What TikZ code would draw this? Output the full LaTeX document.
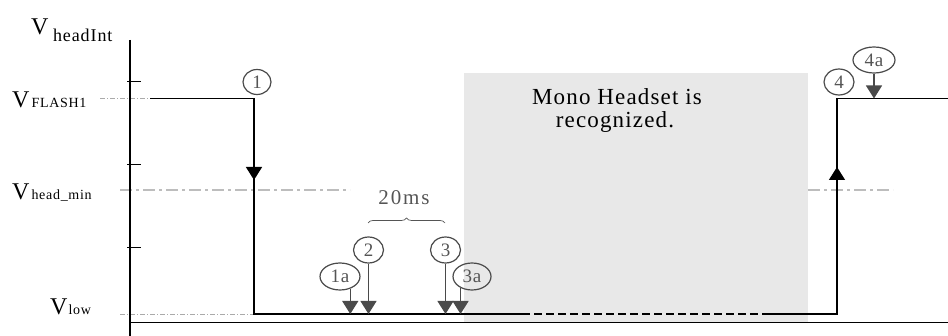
\documentclass[tikz,border=0pt]{standalone}
\usepackage{fontspec}
\setmainfont{Liberation Serif}
\newfontfamily\lsp[LetterSpace=5]{Liberation Serif}
\newfontfamily\lspw[LetterSpace=9]{Liberation Serif}
\usetikzlibrary{arrows.meta,shapes.geometric,decorations.pathreplacing}
\definecolor{boxgray}{HTML}{E8E8E8}
\definecolor{refgray}{HTML}{BDBDBD}
\definecolor{thingray}{HTML}{AAAAAA}
\definecolor{markgray}{HTML}{4A4A4A}
\definecolor{txtgray}{HTML}{555555}
\tikzset{
  sig/.style={line width=1.4pt, black},
  sigtip/.style={sig, -{Triangle[length=13pt,width=16pt]}},
  marker/.style={line width=1.2pt, markgray, -{Triangle[length=13pt,width=16pt]}},
  circ/.style={ellipse, draw=markgray, line width=1.2pt, inner sep=0pt,
     text=txtgray, font=\fontsize{19}{19}\lsp},
  vlab/.style={anchor=base west, inner sep=0pt, font=\fontsize{24}{24}\selectfont},
  thinref/.style={thingray, line width=0.6pt, dash pattern=on 5pt off 2pt on 1pt off 2pt},
  headref/.style={refgray, line width=1.5pt, dash pattern=on 12pt off 4pt on 3pt off 4pt},
}
\begin{document}
\begin{tikzpicture}[x=1pt,y=-1pt]
\useasboundingbox (0,0) rectangle (948,336);
% gray box
\fill[boxgray] (464,73) rectangle (808,322.5);
% reference lines
\draw[thinref] (100,98.5) -- (150,98.5);
\draw[thinref] (120,314) -- (254,314);
\draw[headref] (120,190) -- (350,190);
\draw[headref] (808,190) -- (893,190);
% axes
\coordinate (ytop) at (130,40);
\coordinate (ybot) at (130,336);
\coordinate (xorig) at (130,322.5);
\coordinate (xend) at (948,322.5);
\draw[line width=1.8pt] (ytop) -- (ybot);
\draw[line width=1.8pt] (xorig) -- (xend);
\foreach \y in {81.5,165,248} \draw[line width=1pt] (127,\y) -- (141,\y);
% signal
\coordinate (s0) at (150,98.5);
\coordinate (s1) at (254,98.5);
\coordinate (s2) at (254,314);
\coordinate (s3) at (522,314);
\coordinate (s4) at (768,314);
\coordinate (s5) at (837,314);
\coordinate (s6) at (837,98.5);
\coordinate (s7) at (948,98.5);
\draw[sig] (s0) -- (s1) -- (s2) -- (s3);
\draw[sig, dash pattern=on 8pt off 4pt] (s3) -- (s4);
\draw[sig] (s4) -- (s5) -- (s6) -- (s7);
\coordinate (m1) at (254,180);
\coordinate (m2) at (837,167);
\draw[sigtip] (s1) -- (m1);
\draw[sigtip] (s5) -- (m2);
% labels on axis
\node[vlab] (lhead) at (31,35) {V\kern4.5pt\raisebox{-6.5pt}{\fontsize{18}{18}\lsp headInt}};
\node[vlab] (lflash) at (12,108) {V\kern2pt{\fontsize{14}{14}\lsp FLASH1}};
\node[vlab] (lmin) at (12,200) {V\kern2pt{\fontsize{14}{14}\lsp head\_min}};
\node[vlab] (llow) at (50,315) {V\kern1pt{\fontsize{14}{14}\lsp low}};
% circles
\node[circ, minimum width=28pt, minimum height=25pt] (c1) at (257,82) {1};
\node[circ, minimum width=40pt, minimum height=27pt] (c1a) at (340,276.5) {1a};
\node[circ, minimum width=30pt, minimum height=26pt] (c2) at (368.5,250) {2};
\node[circ, minimum width=30pt, minimum height=26pt] (c3) at (445.5,250) {3};
\node[circ, minimum width=38pt, minimum height=27pt] (c3a) at (472,276.5) {3a};
\node[circ, minimum width=30pt, minimum height=26pt] (c4) at (839,82) {4};
\node[circ, minimum width=42pt, minimum height=26pt] (c4a) at (874,60) {4a};
% markers
\coordinate (low) at (0,314);
\coordinate (high) at (0,98.5);
\draw[marker] (c1a.-50) -- (c1a.-50 |- low);
\draw[marker] (c2.south) -- (c2.south |- low);
\draw[marker] (c3.south) -- (c3.south |- low);
\draw[marker] (c3a.-135) -- (c3a.-135 |- low);
\draw[marker] (c4a.south) -- (c4a.south |- high);
% brace and 20ms
\coordinate (b1) at (368,223);
\coordinate (b2) at (445,223);
\draw[txtgray, line width=0.7pt, decorate, decoration={brace, amplitude=5pt}] (b1) -- (b2);
\node[anchor=base, inner sep=0pt, text=txtgray, font=\fontsize{21}{21}\lspw] (t20) at (404,205) {20ms};
% box text
\node[anchor=base, inner sep=0pt, font=\fontsize{23}{23}\lsp] (mono1) at (617,105) {Mono Headset is};
\node[anchor=base, inner sep=0pt, font=\fontsize{23}{23}\lsp] (mono2) at (615,128) {recognized.};
\end{tikzpicture}
\end{document}
